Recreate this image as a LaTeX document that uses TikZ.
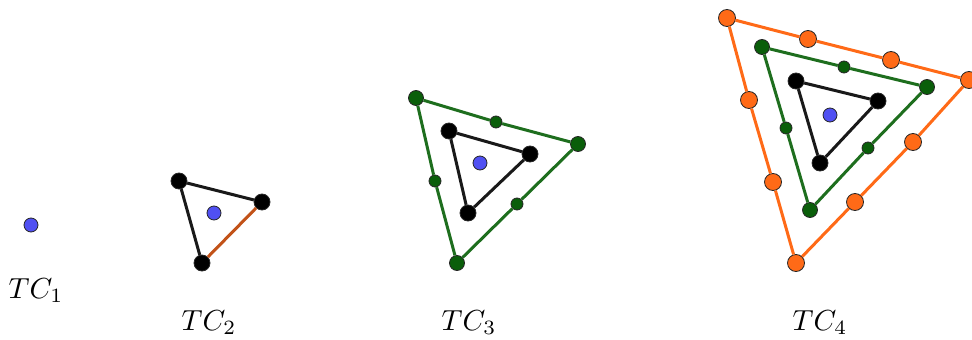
\documentclass[tikz,border=0pt]{standalone}
\usepackage{xcolor}
\definecolor{ptblue}{HTML}{5050F2}
\definecolor{ggreen}{HTML}{1E6E1E}
\definecolor{gdot}{HTML}{0A5E0A}
\definecolor{gorange}{HTML}{FF6A17}
\definecolor{brownor}{HTML}{C25218}
\begin{document}
\begin{tikzpicture}[x=1pt,y=-1pt,
  dot/.style={circle,inner sep=0pt,draw=black!85,line width=0.8pt},
  ctr/.style={dot,fill=ptblue,minimum size=14pt},
  bv/.style={dot,fill=black,minimum size=16pt},
  gv/.style={dot,fill=gdot,minimum size=15pt},
  gm/.style={dot,fill=gdot,minimum size=12pt},
  ov/.style={dot,fill=gorange,minimum size=17pt},
  blk/.style={line width=3pt,black!90},
  grn/.style={line width=3pt,ggreen},
  org/.style={line width=3pt,gorange},
  lab/.style={font=\normalsize,scale=2.9,anchor=base,inner sep=0pt}
]
\useasboundingbox (0,0) rectangle (972,340);
% TC1
\node[ctr] (c1) at (31,225) {};
\node[lab] (l1) at (36,298) {$TC_1$};
% TC2
\node[bv] (a2) at (179,181) {};
\node[bv] (b2) at (262,202) {};
\node[bv] (d2) at (202,263) {};
\node[ctr] (c2) at (214,213) {};
\draw[blk] (a2) -- (b2);
\draw[blk] (a2) -- (d2);
\draw[line width=3pt,brownor] (b2) -- (d2);
\node[lab] (l2) at (209,330) {$TC_2$};
% TC3
\node[gv] (ga3) at (416,98) {};
\node[gv] (gb3) at (578,144) {};
\node[gv] (gd3) at (457,263) {};
\node[gm] (m13) at (496,122) {};
\node[gm] (m23) at (517,204) {};
\node[gm] (m33) at (435,181) {};
\draw[grn] (ga3) -- (m13) -- (gb3) -- (m23) -- (gd3) -- (m33) -- (ga3);
\node[bv] (a3) at (449,131) {};
\node[bv] (b3) at (530,154) {};
\node[bv] (d3) at (468,213) {};
\draw[blk] (a3) -- (b3) -- (d3) -- (a3);
\node[ctr] (c3) at (480,163) {};
\node[lab] (l3) at (469,330) {$TC_3$};
% TC4
\node[ov] (oa) at (727,18) {};
\node[ov] (ob) at (969,80) {};
\node[ov] (od) at (796,263) {};
\node[ov] (o1) at (808,39) {};
\node[ov] (o2) at (891,60) {};
\node[ov] (o3) at (913,142) {};
\node[ov] (o4) at (855,202) {};
\node[ov] (o5) at (773,182) {};
\node[ov] (o6) at (749,100) {};
\draw[org] (oa) -- (o1) -- (o2) -- (ob) -- (o3) -- (o4) -- (od) -- (o5) -- (o6) -- (oa);
\node[gv] (ga4) at (762,47) {};
\node[gv] (gb4) at (927,87) {};
\node[gv] (gd4) at (810,210) {};
\node[gm] (m14) at (844,67) {};
\node[gm] (m24) at (868,148) {};
\node[gm] (m34) at (786,128) {};
\draw[grn] (ga4) -- (m14) -- (gb4) -- (m24) -- (gd4) -- (m34) -- (ga4);
\node[bv] (a4) at (796,81) {};
\node[bv] (b4) at (878,101) {};
\node[bv] (d4) at (820,163) {};
\draw[blk] (a4) -- (b4) -- (d4) -- (a4);
\node[ctr] (c4) at (830,115) {};
\node[lab] (l4) at (820,330) {$TC_4$};
\end{tikzpicture}
\end{document}
